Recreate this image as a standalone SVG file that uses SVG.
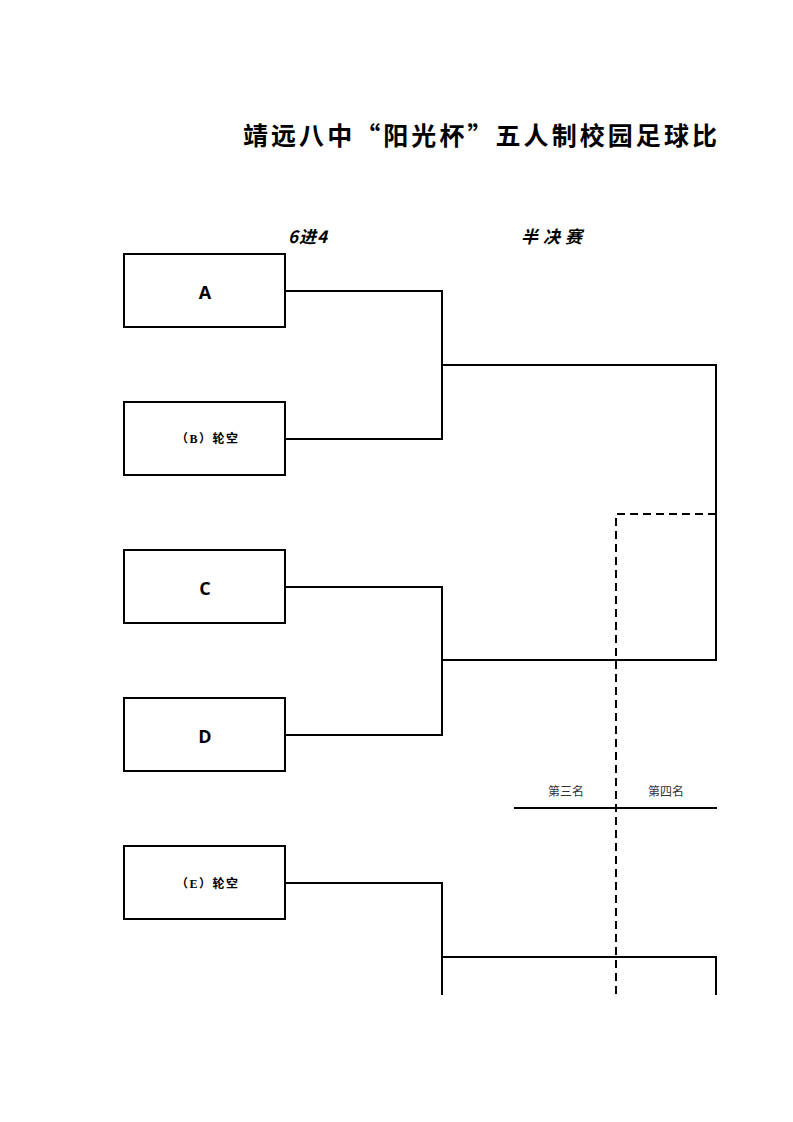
<svg xmlns="http://www.w3.org/2000/svg" width="793" height="1122" viewBox="0 0 793 1122">
<style>
.box{fill:#fff;stroke:#000;stroke-width:2}
.ln{fill:none;stroke:#000;stroke-width:2}
.dash{fill:none;stroke:#000;stroke-width:2;stroke-dasharray:8,5}
.big{font-family:"Open Sans","Liberation Sans",sans-serif;font-weight:bold;font-size:18px;text-anchor:middle}
.sm{font-family:"Liberation Serif","Noto Sans CJK SC",serif;font-weight:bold;font-size:12px;letter-spacing:1.5px}
.lab{font-family:"Liberation Serif","Noto Sans CJK SC",serif;font-size:12px;fill:#333;text-anchor:middle}
.hd{font-family:"Noto Sans CJK SC",serif;font-style:italic;font-weight:bold;font-size:17px}
</style>
<rect width="793" height="1122" fill="#fff"/>
<text x="243" y="145" textLength="474" font-family="'Noto Sans CJK SC',sans-serif" font-weight="bold" font-size="25">靖远八中“阳光杯”五人制校园足球比</text>
<text class="hd" x="288" y="243" letter-spacing="1">6进4</text>
<text class="hd" x="521" y="243" letter-spacing="5">半决赛</text>
<g id="nodeA"><rect class="box" x="124" y="254" width="161" height="73"/><text class="big" x="205" y="299">A</text></g>
<g id="nodeB"><rect class="box" x="124" y="402" width="161" height="73"/><text class="sm" x="176" y="443">（B）轮空</text></g>
<g id="nodeC"><rect class="box" x="124" y="550" width="161" height="73"/><text class="big" x="205" y="595">C</text></g>
<g id="nodeD"><rect class="box" x="124" y="698" width="161" height="73"/><text class="big" x="205" y="743">D</text></g>
<g id="nodeE"><rect class="box" x="124" y="846" width="161" height="73"/><text class="sm" x="176" y="888">（E）轮空</text></g>
<g id="connectors">
<polyline class="ln" points="285,291 442,291 442,439 285,439"/>
<line class="ln" x1="442" y1="365" x2="716" y2="365"/>
<polyline class="ln" points="716,364 716,660 442,660"/>
<polyline class="ln" points="285,587 442,587 442,735 285,735"/>
<polyline class="ln" points="285,883 442,883 442,995"/>
<polyline class="ln" points="442,957 716,957 716,995"/>
<polyline class="dash" points="716,514 616,514 616,995"/>
<line class="ln" x1="514" y1="808" x2="717" y2="808"/>
</g>
<text class="lab" x="566" y="796">第三名</text>
<text class="lab" x="666" y="796">第四名</text>
</svg>
